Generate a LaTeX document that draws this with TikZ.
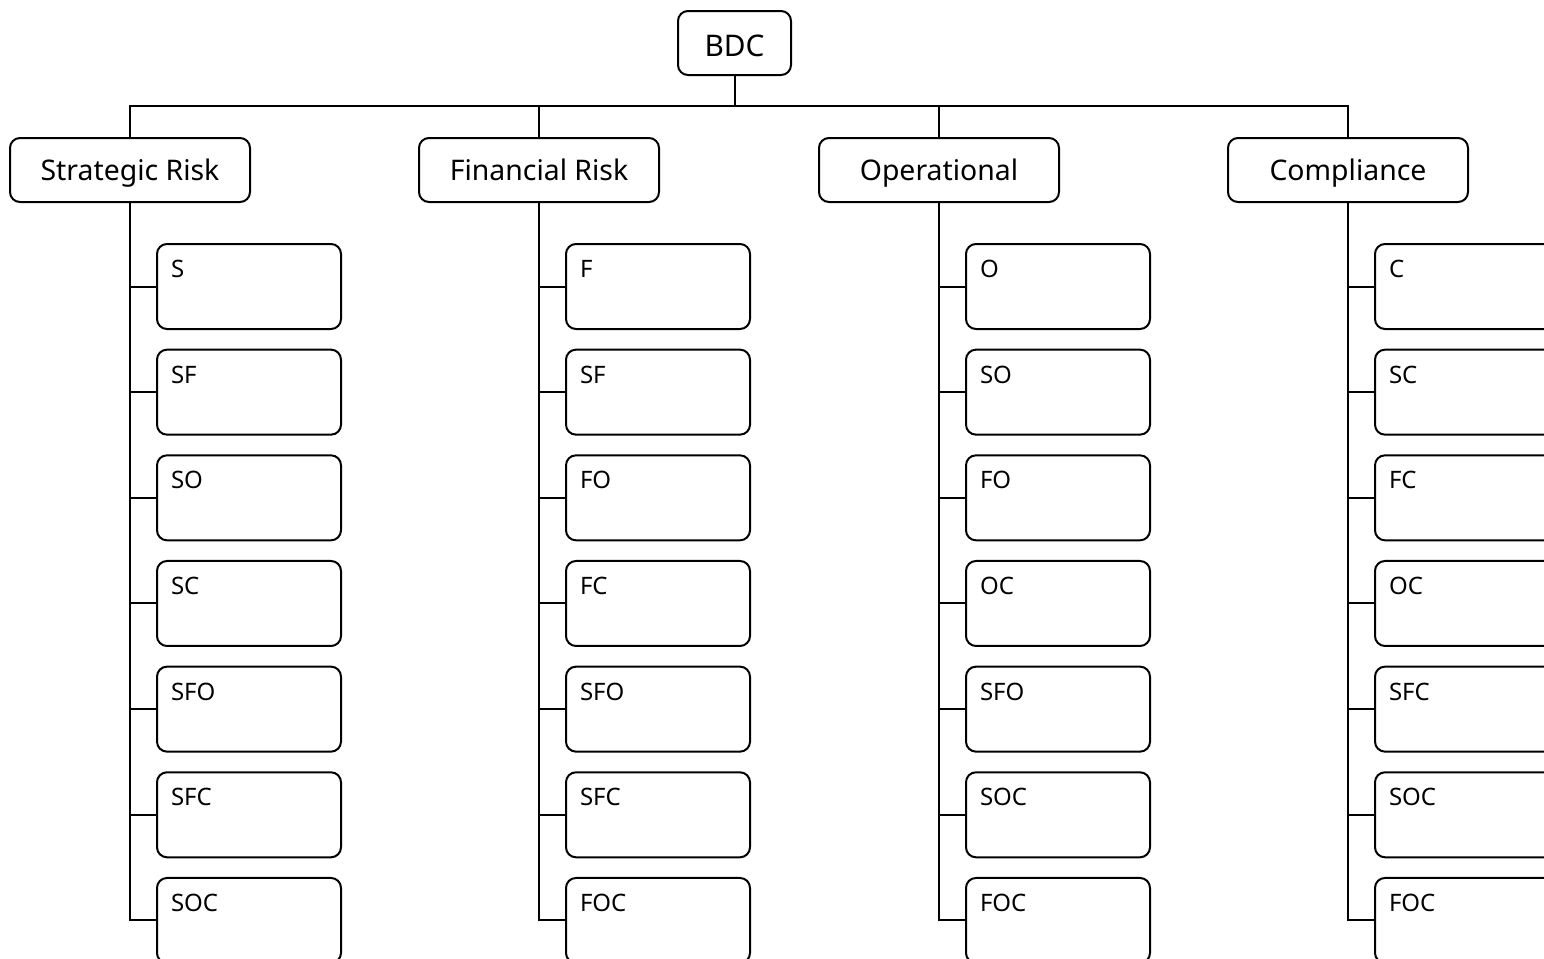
\documentclass[tikz,border=0pt]{standalone}
\usepackage{fontspec}
\setsansfont{Noto Sans}
\usetikzlibrary{positioning}

\begin{document}
\begin{tikzpicture}[
  font=\sffamily,
  box/.style={rectangle,rounded corners=5pt,draw=black,line width=1pt,fill=white,
              minimum width=120pt,minimum height=32pt,inner sep=0pt,outer sep=0pt,
              text height=10pt,text depth=0pt,
              font=\sffamily\fontsize{14.2}{17}\selectfont},
  rootbox/.style={box,minimum width=56.5pt,text height=13pt,
                  font=\sffamily\fontsize{14.9}{17}\selectfont},
  subbox/.style={box,minimum width=92pt,minimum height=42.5pt,
                 label={[subtxt]north west:#1}},
  subtxt/.style={anchor=north west,inner sep=0pt,outer sep=0pt,xshift=7pt,yshift=-8pt,
                 font=\sffamily\fontsize{12}{14}\selectfont},
  link/.style={draw=black,line width=1pt},
]
\useasboundingbox (0,0) rectangle (772pt,-479.5pt);
\fill[white] (0,0) rectangle (772pt,-479.5pt);
\clip (0,0) rectangle (772pt,-479.5pt);

% ---- root and the four risk groups ----
\node[rootbox] (bdc) at (367.25pt,-21.5pt) {BDC};
\node[box,below=31.5pt of bdc,xshift=-302.25pt] (strat) {Strategic Risk};
\node[box,below=31.5pt of bdc,xshift=-97.75pt]  (fin)   {Financial Risk};
\node[box,below=31.5pt of bdc,xshift=102.25pt]  (oper)  {Operational};
\node[box,below=31.5pt of bdc,xshift=306.75pt]  (comp)  {Compliance};

% ---- strategic ----
\node[subbox=S,below=21pt of strat.south,anchor=north west,xshift=13.5pt] (s1) {};
\node[subbox=SF,below=10.33pt of s1]  (s2) {};
\node[subbox=SO,below=10.33pt of s2]  (s3) {};
\node[subbox=SC,below=10.33pt of s3]  (s4) {};
\node[subbox=SFO,below=10.33pt of s4] (s5) {};
\node[subbox=SFC,below=10.33pt of s5] (s6) {};
\node[subbox=SOC,below=10.33pt of s6] (s7) {};

% ---- financial ----
\node[subbox=F,below=21pt of fin.south,anchor=north west,xshift=13.5pt] (f1) {};
\node[subbox=SF,below=10.33pt of f1]  (f2) {};
\node[subbox=FO,below=10.33pt of f2]  (f3) {};
\node[subbox=FC,below=10.33pt of f3]  (f4) {};
\node[subbox=SFO,below=10.33pt of f4] (f5) {};
\node[subbox=SFC,below=10.33pt of f5] (f6) {};
\node[subbox=FOC,below=10.33pt of f6] (f7) {};

% ---- operational ----
\node[subbox=O,below=21pt of oper.south,anchor=north west,xshift=13.5pt] (o1) {};
\node[subbox=SO,below=10.33pt of o1]  (o2) {};
\node[subbox=FO,below=10.33pt of o2]  (o3) {};
\node[subbox=OC,below=10.33pt of o3]  (o4) {};
\node[subbox=SFO,below=10.33pt of o4] (o5) {};
\node[subbox=SOC,below=10.33pt of o5] (o6) {};
\node[subbox=FOC,below=10.33pt of o6] (o7) {};

% ---- compliance ----
\node[subbox=C,below=21pt of comp.south,anchor=north west,xshift=13.5pt] (c1) {};
\node[subbox=SC,below=10.33pt of c1]  (c2) {};
\node[subbox=FC,below=10.33pt of c2]  (c3) {};
\node[subbox=OC,below=10.33pt of c3]  (c4) {};
\node[subbox=SFC,below=10.33pt of c4] (c5) {};
\node[subbox=SOC,below=10.33pt of c5] (c6) {};
\node[subbox=FOC,below=10.33pt of c6] (c7) {};

% ---- bus from the root ----
\draw[link] (bdc.south) -- ++(0,-15.5pt) -| (strat.north);
\draw[link] (bdc.south) -- ++(0,-15.5pt) -| (fin.north);
\draw[link] (bdc.south) -- ++(0,-15.5pt) -| (oper.north);
\draw[link] (bdc.south) -- ++(0,-15.5pt) -| (comp.north);

% ---- spines and branches ----
\draw[link] (strat.south) |- (s7.west);
\draw[link] (strat.south |- s1.west) -- (s1.west);
\draw[link] (strat.south |- s2.west) -- (s2.west);
\draw[link] (strat.south |- s3.west) -- (s3.west);
\draw[link] (strat.south |- s4.west) -- (s4.west);
\draw[link] (strat.south |- s5.west) -- (s5.west);
\draw[link] (strat.south |- s6.west) -- (s6.west);

\draw[link] (fin.south) |- (f7.west);
\draw[link] (fin.south |- f1.west) -- (f1.west);
\draw[link] (fin.south |- f2.west) -- (f2.west);
\draw[link] (fin.south |- f3.west) -- (f3.west);
\draw[link] (fin.south |- f4.west) -- (f4.west);
\draw[link] (fin.south |- f5.west) -- (f5.west);
\draw[link] (fin.south |- f6.west) -- (f6.west);

\draw[link] (oper.south) |- (o7.west);
\draw[link] (oper.south |- o1.west) -- (o1.west);
\draw[link] (oper.south |- o2.west) -- (o2.west);
\draw[link] (oper.south |- o3.west) -- (o3.west);
\draw[link] (oper.south |- o4.west) -- (o4.west);
\draw[link] (oper.south |- o5.west) -- (o5.west);
\draw[link] (oper.south |- o6.west) -- (o6.west);

\draw[link] (comp.south) |- (c7.west);
\draw[link] (comp.south |- c1.west) -- (c1.west);
\draw[link] (comp.south |- c2.west) -- (c2.west);
\draw[link] (comp.south |- c3.west) -- (c3.west);
\draw[link] (comp.south |- c4.west) -- (c4.west);
\draw[link] (comp.south |- c5.west) -- (c5.west);
\draw[link] (comp.south |- c6.west) -- (c6.west);
\end{tikzpicture}
\end{document}
